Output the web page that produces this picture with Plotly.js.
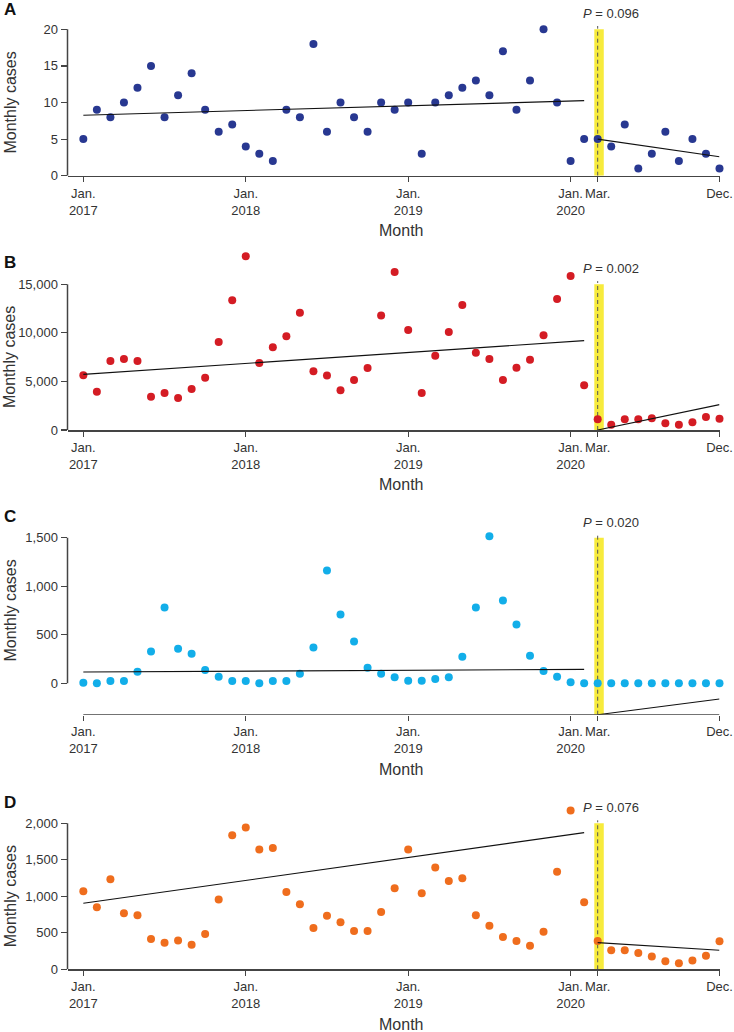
<!DOCTYPE html>
<html>
<head>
<meta charset="utf-8">
<script src="https://cdn.plot.ly/plotly-3.0.1.min.js"></script>
<style>html,body{margin:0;padding:0;background:#fff;}#chart{width:734px;height:1032px;}</style>
</head>
<body>
<div id="chart"></div>
<script>
// ---------------- DATA ----------------
const months = [
  "2017-01","2017-02","2017-03","2017-04","2017-05","2017-06","2017-07","2017-08","2017-09","2017-10","2017-11","2017-12",
  "2018-01","2018-02","2018-03","2018-04","2018-05","2018-06","2018-07","2018-08","2018-09","2018-10","2018-11","2018-12",
  "2019-01","2019-02","2019-03","2019-04","2019-05","2019-06","2019-07","2019-08","2019-09","2019-10","2019-11","2019-12",
  "2020-01","2020-02","2020-03","2020-04","2020-05","2020-06","2020-07","2020-08","2020-09","2020-10","2020-11","2020-12"
];
const tickMonths = ["2017-01","2018-01","2019-01","2020-01","2020-03","2020-12"];
const tickLabels = ["Jan.<br>2017","Jan.<br>2018","Jan.<br>2019","Jan.<br>2020","Mar.","Dec."];

const casesA = [5,9,8,10,12,15,8,11,14,9,6,7, 4,3,2,9,8,18,6,10,8,6,10,9, 10,3,10,11,12,13,11,17,9,13,20,10, 2,5,5,4,7,1,3,6,2,5,3,1];
const casesB = [5630,3950,7100,7310,7100,3430,3810,3300,4220,5390,9060,13350,
                17880,6900,8510,9640,12080,6040,5600,4080,5150,6380,11800,16270,
                10300,3810,7650,10090,12870,7960,7310,5150,6420,7240,9750,13490,
                15860,4600,1100,550,1100,1100,1200,690,550,790,1340,1170];
const casesC = [7,0,24,24,120,329,782,357,305,137,69,24,
                24,0,24,24,99,370,1163,710,432,161,99,62,
                27,27,45,62,274,782,1516,854,607,285,127,69,
                10,0,0,0,0,0,0,0,0,0,0,0];
const casesD = [1068,849,1233,767,740,415,365,393,338,484,955,1836,
                1941,1640,1662,1059,890,566,735,644,525,525,785,1110,
                1640,1041,1393,1210,1247,740,598,443,388,324,516,1338,
                2174,918,388,260,260,224,174,110,82,119,187,383];

// fitted segments (start, end)
const trendPreMonths = ["2017-01","2020-02"];
const trendPostMonths = ["2020-03","2020-12"];
const trendA_pre = [8.25, 10.25], trendA_post = [5.0, 2.6];
const trendB_pre = [5730, 9200], trendB_post = [0, 2610];
const trendC_pre = [116, 144],   trendC_post = [-323, -162];
const trendD_pre = [904, 1872],  trendD_post = [365, 260];

const pValues = ["0.096","0.002","0.020","0.076"];
const panelLetters = ["A","B","C","D"];
const yTicksA = [0,5,10,15,20];
const yTicksB = [0,5000,10000,15000];
const yTicksC = [0,500,1000,1500];
const yTicksD = [0,500,1000,1500,2000];

// ---------------- STYLE / LAYOUT ----------------
const W = 734, H = 1032;
const FONT = "Liberation Sans, Arial, sans-serif";
const colors = ["#283891","#d41c24","#12aee9","#ef6d1d"];
const axisCol = "#444";
const textCol = "#333";

const panels = [
  {axTopPx:29.3,  bot:175.7, rmin:0,    axMax:20,    extMax:23,    ticks:yTicksA, data:casesA, pre:trendA_pre, post:trendA_post, fullX:true,  dashTop:20.45},
  {axTopPx:284.3, bot:430.0, rmin:0,    axMax:15000, extMax:19000, ticks:yTicksB, data:casesB, pre:trendB_pre, post:trendB_post, fullX:true,  dashTop:15330},
  {axTopPx:537.7, bot:714.7, rmin:-323, axMax:1500,  extMax:1700,  ticks:yTicksC, data:casesC, pre:trendC_pre, post:trendC_post, fullX:false, dashTop:1532},
  {axTopPx:823.3, bot:969.3, rmin:0,    axMax:2000,  extMax:2300,  ticks:yTicksD, data:casesD, pre:trendD_pre, post:trendD_post, fullX:true,  dashTop:2041}
];
const pTextY = [13.7, 268, 522.3, 807.3];
const letterY = [9, 262.5, 516, 802];
const yTitleMid = [102.5, 357, 610.5, 896.3];

const xDom = [67.5/W, 719.5/W];
const xRange = [-1.17, 47.0];

const traces = [];
const layout = {
  width: W, height: H,
  margin: {l:0, r:0, t:0, b:0, autoexpand:false},
  paper_bgcolor: "#fff", plot_bgcolor: "rgba(0,0,0,0)",
  showlegend: false,
  font: {family: FONT, color: textCol},
  shapes: [], annotations: []
};

panels.forEach((p, i) => {
  const n = i === 0 ? "" : String(i+1);
  const xa = "x" + n, ya = "y" + n;
  traces.push({
    x: months, y: p.data, xaxis: xa, yaxis: ya, type: "scatter", mode: "markers",
    marker: {size: 8, color: colors[i]}, cliponaxis: false, hoverinfo: "x+y"
  });
  traces.push({
    x: trendPreMonths, y: p.pre, xaxis: xa, yaxis: ya, type: "scatter", mode: "lines",
    line: {color: "#111", width: 1.1}, cliponaxis: false, hoverinfo: "skip"
  });
  traces.push({
    x: trendPostMonths, y: p.post, xaxis: xa, yaxis: ya, type: "scatter", mode: "lines",
    line: {color: "#111", width: 1.1}, cliponaxis: false, hoverinfo: "skip"
  });

  const pxPerUnit = (p.bot - p.axTopPx) / (p.axMax - p.rmin);
  const topPx = p.bot - (p.extMax - p.rmin) * pxPerUnit;
  const yDom = [1 - p.bot/H, 1 - topPx/H];
  layout["xaxis" + n] = {
    type: "category", domain: xDom, range: xRange, anchor: ya,
    tickmode: "array", tickvals: tickMonths, ticktext: tickLabels, tickangle: 0,
    ticks: "outside", ticklen: 5, tickwidth: 1.2, tickcolor: axisCol,
    showline: p.fullX, linecolor: axisCol, linewidth: 1.5,
    showgrid: false, zeroline: false, fixedrange: true,
    tickfont: {family: FONT, size: 13, color: textCol}
  };
  layout["yaxis" + n] = {
    domain: yDom, range: [p.rmin, p.extMax], anchor: xa,
    tickmode: "array", tickvals: p.ticks, tickformat: ",",
    ticks: "outside", ticklen: 6, tickwidth: 1.2, tickcolor: axisCol,
    showline: false, showgrid: false, zeroline: false, fixedrange: true,
    tickfont: {family: FONT, size: 13, color: textCol}
  };

  layout.shapes.push({type:"rect", xref:xa, yref:ya, x0:37.75, x1:38.45, y0:p.rmin, y1:p.axMax,
    fillcolor:"#f7eb3c", line:{width:0}, layer:"below"});
  layout.shapes.push({type:"line", xref:xa, yref:ya, x0:38, x1:38, y0:p.rmin, y1:p.dashTop,
    line:{color:"#555", width:1, dash:"4px,3px"}, layer:"below"});
  layout.shapes.push({type:"line", xref:"paper", yref:ya, x0:67.5/W, x1:67.5/W, y0:p.fullX ? p.rmin : 0, y1:p.axMax,
    line:{color:axisCol, width:1.5}});
  if (!p.fullX) {
    layout.shapes.push({type:"line", xref:xa, yref:ya, x0:0, x1:47, y0:p.rmin, y1:p.rmin,
      line:{color:axisCol, width:1.5}});
  }

  layout.annotations.push({xref:"paper", yref:"paper", x:580.5/W, y:1 - pTextY[i]/H,
    xanchor:"left", yanchor:"middle", showarrow:false,
    text:"<i>P</i> = " + pValues[i], font:{family:FONT, size:13, color:textCol}});
  layout.annotations.push({xref:"paper", yref:"paper", x:2/W, y:1 - letterY[i]/H,
    xanchor:"left", yanchor:"middle", showarrow:false,
    text:"<b>" + panelLetters[i] + "</b>", font:{family:FONT, size:17, color:"#111"}});
  layout.annotations.push({xref:"paper", yref:"paper", x:10/W, y:1 - yTitleMid[i]/H,
    xanchor:"center", yanchor:"middle", showarrow:false, textangle:-90,
    text:"Monthly cases", font:{family:FONT, size:16, color:textCol}});
  layout.annotations.push({xref:"paper", yref:"paper", x:401/W, y:1 - (p.bot + 55)/H,
    xanchor:"center", yanchor:"middle", showarrow:false,
    text:"Month", font:{family:FONT, size:16, color:textCol}});
});

Plotly.newPlot("chart", traces, layout, {staticPlot: true, displayModeBar: false});
</script>
</body>
</html>
